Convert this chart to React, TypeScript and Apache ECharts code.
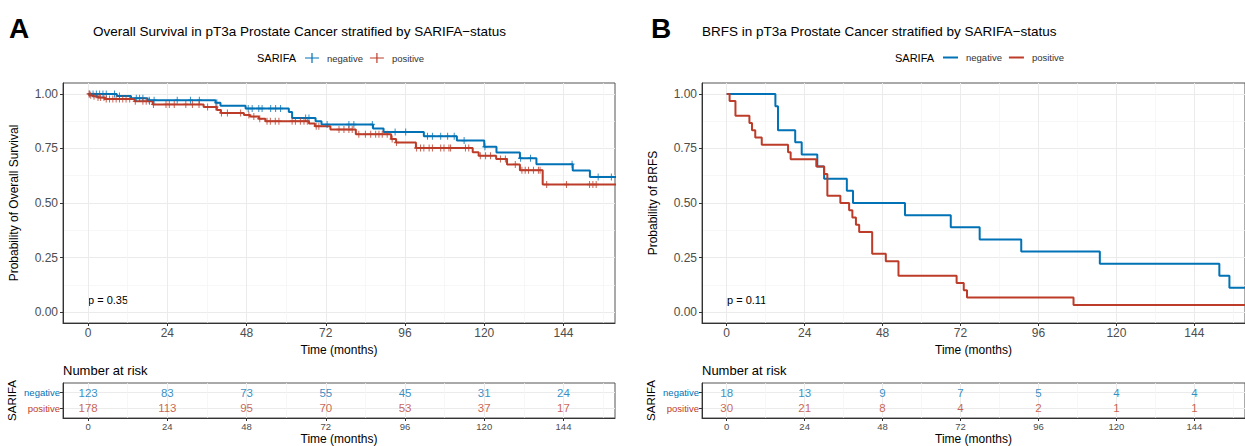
import React, { useEffect, useRef } from "react";
import * as echarts from "echarts";

// ---------- data ----------
const TIME_TICKS = [0, 24, 48, 72, 96, 120, 144];
const TIME_MINOR = [12, 36, 60, 84, 108, 132, 156];
const PROB_TICKS = [0, 0.25, 0.5, 0.75, 1];
const PROB_MINOR = [0.125, 0.375, 0.625, 0.875];
const X_MIN = -7.6;
const X_MAX = 159.6;

// Panel A: overall survival
const osNegTime = [0, 8.7, 13, 18, 38.6, 40.1, 47.7, 60.8, 61.8, 68.9, 70.7, 86.3, 89.5, 101.7, 111.7, 120, 123.7, 130.8, 135.8, 146.8, 152, 160];
const osNegSurv = [1, 0.99, 0.98, 0.971, 0.959, 0.946, 0.933, 0.917, 0.89, 0.875, 0.86, 0.841, 0.825, 0.806, 0.786, 0.758, 0.732, 0.705, 0.678, 0.649, 0.619, 0.619];
const osPosTime = [0, 0.5, 1.5, 3, 5, 14.1, 19.6, 35, 39, 40.2, 47.2, 49, 51.7, 53.7, 66.9, 68.7, 73.4, 81.1, 91.8, 93.3, 99.3, 116.5, 118.3, 123.6, 126.9, 130.8, 137.7, 160];
const osPosSurv = [1, 0.994, 0.989, 0.983, 0.977, 0.966, 0.952, 0.94, 0.926, 0.913, 0.903, 0.896, 0.886, 0.875, 0.864, 0.852, 0.837, 0.815, 0.793, 0.777, 0.752, 0.733, 0.717, 0.702, 0.677, 0.65, 0.585, 0.585];
const osNegCensor = [0.5, 1.5, 2.5, 3.5, 4.5, 5.5, 8, 9.5, 14.6, 15.6, 16.6, 18.5, 20, 27, 31, 33.7, 39, 48.5, 49.7, 51.7, 52.7, 55.3, 56.8, 58.3, 65.9, 66.9, 72.4, 79, 80.5, 86.1, 93, 96.2, 102.8, 104.3, 106.8, 108.9, 110.9, 113.9, 120.2, 131, 134, 146.6, 154.5, 158.5];
const osPosCensor = [0.3, 0.8, 1.8, 3.0, 3.8, 4.8, 5.5, 6.5, 7.5, 8.5, 9.5, 10.5, 11.5, 12.6, 14.3, 16.6, 17.6, 18.6, 19.8, 23.6, 24.6, 26.1, 29.6, 31.6, 33.6, 36.2, 38.7, 40.4, 42.2, 46.2, 48.7, 50.2, 52.0, 54.2, 55.2, 56.7, 57.8, 61.8, 62.8, 64.3, 65.4, 66.4, 69.1, 69.9, 76, 77.5, 79, 80, 82, 84, 85.6, 87.1, 88.1, 89.1, 90.6, 92.1, 93.4, 99.5, 100.7, 101.7, 103.3, 104.3, 106.8, 107.8, 109.3, 109.8, 114.3, 115.3, 118.8, 120.4, 121.9, 124.9, 126.4, 129.4, 131.4, 132.4, 133.4, 134.9, 136.4, 136.9, 138.9, 144.9, 151.9, 152.9, 153.9];
const osRiskNeg = [123, 83, 73, 55, 45, 31, 24];
const osRiskPos = [178, 113, 95, 70, 53, 37, 17];

// Panel B: biochemical recurrence-free survival
const bNegTime = [0, 15.0, 15.8, 21.1, 23.1, 27.9, 30.0, 37.0, 38.9, 54.9, 69.0, 77.9, 90.7, 114.9, 151.7, 154.8, 160];
const bNegSurv = [1, 0.944, 0.833, 0.778, 0.722, 0.667, 0.611, 0.556, 0.5, 0.444, 0.389, 0.333, 0.278, 0.222, 0.167, 0.111, 0.111];
const bPosTime = [0, 0.9, 2.7, 7.0, 7.8, 8.8, 10.8, 18.9, 19.7, 27.6, 30.0, 31.0, 35.0, 37.7, 38.7, 39.8, 40.8, 44.8, 49.0, 52.9, 70.8, 73.0, 74.0, 106.8, 160];
const bPosSurv = [1, 0.967, 0.9, 0.867, 0.833, 0.8, 0.767, 0.733, 0.7, 0.667, 0.633, 0.533, 0.5, 0.467, 0.433, 0.4, 0.367, 0.267, 0.233, 0.167, 0.133, 0.1, 0.067, 0.033, 0.033];
const bRiskNeg = [18, 13, 9, 7, 5, 4, 4];
const bRiskPos = [30, 21, 8, 4, 2, 1, 1];

const GROUPS = ["negative", "positive"];
const TITLE_A = "Overall Survival in pT3a Prostate Cancer stratified by SARIFA\u2212status";
const TITLE_B = "BRFS in pT3a Prostate Cancer stratified by SARIFA\u2212status";

// ---------- style ----------
const BLUE = "#0072B5";
const RED = "#BC3C29";
const FONT = "'Liberation Sans', Arial, Helvetica, sans-serif";
const GRID_MAJ = "#ebebeb";
const GRID_MIN = "#f4f4f4";

const zip = (t: number[], s: number[]) => t.map((v, i) => [v, s[i]]);
const survAt = (t: number[], s: number[], x: number) => {
  let v = s[0];
  for (let i = 0; i < t.length; i++) if (t[i] <= x) v = s[i];
  return v;
};
const PLUS = "path://M2.4,0H3.6V2.4H6V3.6H3.6V6H2.4V3.6H0V2.4H2.4Z";
const PLUS_ICON = "path://M0,4.4H14V5.6H0Z M6.4,0H7.6V10H6.4Z";

function mainX(gridIndex: number) {
  return [
    {
      type: "value", gridIndex, min: X_MIN, max: X_MAX, position: "bottom",
      axisLine: { show: true, onZero: false, lineStyle: { color: "#333", width: 1 } },
      axisTick: { show: true, length: 3, customValues: TIME_TICKS, lineStyle: { color: "#333" } },
      axisLabel: { customValues: TIME_TICKS, margin: 4, fontSize: 12, color: "#4d4d4d", fontFamily: FONT },
      splitLine: { show: true, lineStyle: { color: GRID_MAJ, width: 1 } },
      name: "Time (months)", nameLocation: "middle", nameGap: 19,
      nameTextStyle: { fontSize: 12, color: "#000", fontFamily: FONT },
    },
    {
      type: "value", gridIndex, min: X_MIN, max: X_MAX, position: "bottom",
      axisLine: { show: false }, axisTick: { show: false, customValues: TIME_MINOR },
      axisLabel: { show: false, customValues: TIME_MINOR },
      splitLine: { show: true, lineStyle: { color: GRID_MIN, width: 0.7 } },
    },
  ];
}
function tableX(gridIndex: number) {
  return [
    {
      type: "value", gridIndex, min: X_MIN, max: X_MAX, position: "bottom",
      axisLine: { show: true, onZero: false, lineStyle: { color: "#333", width: 1 } },
      axisTick: { show: true, length: 3, customValues: TIME_TICKS, lineStyle: { color: "#333" } },
      axisLabel: { customValues: TIME_TICKS, margin: 3, fontSize: 9.5, color: "#4d4d4d", fontFamily: FONT },
      splitLine: { show: true, lineStyle: { color: GRID_MAJ, width: 1 } },
      name: "Time (months)", nameLocation: "middle", nameGap: 15,
      nameTextStyle: { fontSize: 12, color: "#000", fontFamily: FONT },
    },
    {
      type: "value", gridIndex, min: X_MIN, max: X_MAX, position: "bottom",
      axisLine: { show: false }, axisTick: { show: false, customValues: TIME_MINOR },
      axisLabel: { show: false, customValues: TIME_MINOR },
      splitLine: { show: true, lineStyle: { color: GRID_MIN, width: 0.7 } },
    },
  ];
}
function mainY(gridIndex: number, title: string) {
  return [
    {
      type: "value", gridIndex, min: -0.05, max: 1.05,
      axisLine: { show: true, onZero: false, lineStyle: { color: "#333", width: 1 } },
      axisTick: { show: true, length: 3, customValues: PROB_TICKS, lineStyle: { color: "#333" } },
      axisLabel: { customValues: PROB_TICKS, margin: 5, fontSize: 12, color: "#4d4d4d", fontFamily: FONT, formatter: (v: number) => v.toFixed(2) },
      splitLine: { show: true, lineStyle: { color: GRID_MAJ, width: 1 } },
      name: title, nameLocation: "middle", nameGap: 43, nameRotate: 90,
      nameTextStyle: { fontSize: 12, color: "#000", fontFamily: FONT },
    },
    {
      type: "value", gridIndex, min: -0.05, max: 1.05,
      axisLine: { show: false }, axisTick: { show: false, customValues: PROB_MINOR },
      axisLabel: { show: false, customValues: PROB_MINOR },
      splitLine: { show: true, lineStyle: { color: GRID_MIN, width: 0.7 } },
    },
  ];
}
function tableY(gridIndex: number) {
  return {
    type: "value", gridIndex, min: 0.4, max: 2.6,
    axisLine: { show: true, onZero: false, lineStyle: { color: "#333", width: 1 } },
    axisTick: { show: true, length: 3, customValues: [1, 2], lineStyle: { color: "#333" } },
    axisLabel: {
      customValues: [1, 2], margin: 3, fontSize: 9.5, fontFamily: FONT,
      formatter: (v: number) => (v === 2 ? "{n|" + GROUPS[0] + "}" : "{p|" + GROUPS[1] + "}"),
      rich: { n: { color: BLUE, fontSize: 9.5, fontFamily: FONT }, p: { color: RED, fontSize: 9.5, fontFamily: FONT } },
    },
    splitLine: { show: true, lineStyle: { color: GRID_MAJ, width: 1 } },
    name: "SARIFA", nameLocation: "middle", nameGap: 45, nameRotate: 90,
    nameTextStyle: { fontSize: 11.5, color: "#000", fontFamily: FONT },
  };
}

function curve(name: string, t: number[], s: number[], color: string, xi: number, yi: number) {
  return {
    type: "line", name, xAxisIndex: xi, yAxisIndex: yi, step: "end", data: zip(t, s),
    symbol: "none", color, itemStyle: { color }, lineStyle: { color, width: 2 }, z: 3, clip: true,
  };
}
function censor(name: string, t: number[], s: number[], c: number[], color: string, xi: number, yi: number) {
  return {
    type: "scatter", name, xAxisIndex: xi, yAxisIndex: yi,
    data: c.map((x) => [x, survAt(t, s, x)]),
    symbol: PLUS, symbolSize: [5, 7], itemStyle: { color }, z: 4, clip: true,
  };
}
function risk(name: string, vals: number[], row: number, color: string, xi: number, yi: number) {
  return {
    type: "scatter", name, xAxisIndex: xi, yAxisIndex: yi,
    data: vals.map((n, i) => [TIME_TICKS[i], row, n]),
    symbolSize: 0,
    label: { show: true, position: "inside", formatter: (p: any) => String(p.value[2]), fontSize: 11.5, color, fontFamily: FONT },
    z: 4,
  };
}

function txt(text: string, x: number, y: number, size: number, extra: any = {}) {
  return {
    type: "text", x, y, silent: true,
    style: { text, fontSize: size, fontFamily: FONT, fill: "#000", verticalAlign: "middle", align: "left", ...extra },
  };
}

export default function App() {
  const ref = useRef<HTMLDivElement>(null);
  useEffect(() => {
    if (!ref.current) return;
    const chart = echarts.init(ref.current, null, { renderer: "svg" });
    const option: any = {
      animation: false,
      textStyle: { fontFamily: FONT },
      title: [
        { text: TITLE_A, left: 93, top: 24, padding: 0, textStyle: { fontSize: 13.5, fontWeight: "normal", color: "#000", fontFamily: FONT } },
        { text: TITLE_B, left: 702, top: 24, padding: 0, textStyle: { fontSize: 13.5, fontWeight: "normal", color: "#000", fontFamily: FONT } },
      ],
      legend: [
        {
          left: 305, top: 53, padding: 0, itemWidth: 14, itemHeight: 10, itemGap: 7, selectedMode: false,
          data: GROUPS.map((g) => ({ name: g, icon: PLUS_ICON })),
          textStyle: { fontSize: 9.5, color: "#333", fontFamily: FONT, padding: [0, 0, 0, 3] },
        },
        {
          left: 943, top: 52.5, padding: 0, itemWidth: 15, itemHeight: 2, itemGap: 7, selectedMode: false,
          data: GROUPS.map((g) => ({ name: g, icon: "rect" })),
          textStyle: { fontSize: 9.5, color: "#333", fontFamily: FONT, padding: [0, 0, 0, 3] },
        },
      ],
      grid: [
        { left: 63, top: 83, width: 552, height: 240, show: true, borderColor: "#555", borderWidth: 1, containLabel: false },
        { left: 63, top: 383, width: 552, height: 40, show: true, borderColor: "#555", borderWidth: 1, containLabel: false },
        { left: 702, top: 83, width: 552, height: 240, show: true, borderColor: "#555", borderWidth: 1, containLabel: false },
        { left: 702, top: 383, width: 552, height: 40, show: true, borderColor: "#555", borderWidth: 1, containLabel: false },
      ],
      xAxis: [...mainX(0), ...tableX(1), ...mainX(2), ...tableX(3)],
      yAxis: [...mainY(0, "Probability of Overall Survival"), tableY(1), ...mainY(2, "Probability of BRFS"), tableY(3)],
      series: [
        curve(GROUPS[0], osNegTime, osNegSurv, BLUE, 0, 0),
        curve(GROUPS[1], osPosTime, osPosSurv, RED, 0, 0),
        censor("negative censored", osNegTime, osNegSurv, osNegCensor, BLUE, 0, 0),
        censor("positive censored", osPosTime, osPosSurv, osPosCensor, RED, 0, 0),
        risk("A at risk negative", osRiskNeg, 2, BLUE, 2, 2),
        risk("A at risk positive", osRiskPos, 1, RED, 2, 2),
        curve(GROUPS[0], bNegTime, bNegSurv, BLUE, 4, 3),
        curve(GROUPS[1], bPosTime, bPosSurv, RED, 4, 3),
        risk("B at risk negative", bRiskNeg, 2, BLUE, 6, 5),
        risk("B at risk positive", bRiskPos, 1, RED, 6, 5),
      ],
      graphic: [
        txt("A", 9, 28, 28, { fontWeight: "bold" }),
        txt("B", 651, 28, 28, { fontWeight: "bold" }),
        txt("SARIFA", 257, 58, 11),
        txt("SARIFA", 895, 58, 11),
        txt("p = 0.35", 88, 300, 11),
        txt("p = 0.11", 727, 300, 11),
        txt("Number at risk", 63, 370, 13),
        txt("Number at risk", 702, 370, 13),
      ],
    };
    chart.setOption(option);
    return () => chart.dispose();
  }, []);
  return <div ref={ref} style={{ position: "fixed", left: 0, top: 0, width: 1245, height: 446, background: "#fff" }} />;
}
